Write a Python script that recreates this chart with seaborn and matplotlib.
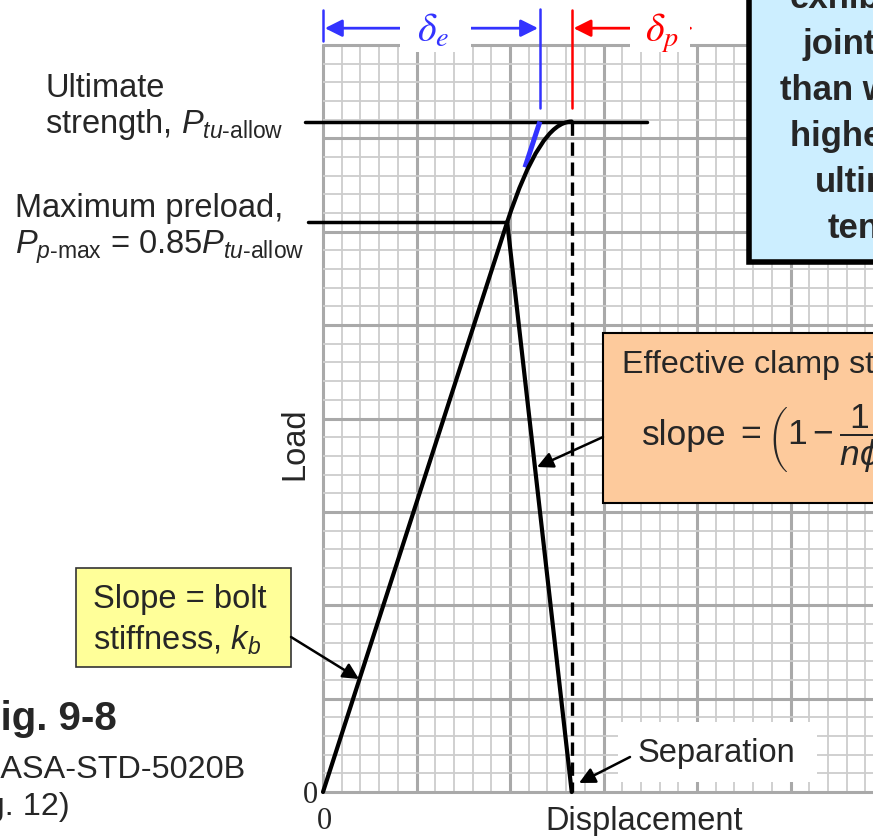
import numpy as np
import matplotlib
matplotlib.use("Agg")
import matplotlib.pyplot as plt
import seaborn as sns
from matplotlib.patches import Rectangle, PathPatch
from matplotlib.path import Path

# Joint load-displacement values, in major grid divisions
p_ult = 7.18             # ultimate strength, P_tu-allow
preload_ratio = 0.85     # maximum preload as a fraction of P_tu-allow
p_preload = preload_ratio * p_ult
disp_preload = 1.97      # displacement at maximum preload
delta_e_end = 2.32       # elastic displacement at P_tu-allow
disp_sep = 2.66          # displacement at separation / ultimate

loading_disp = [0.0, disp_preload]
loading_load = [0.0, p_preload]
unloading_disp = [disp_preload, disp_sep]
unloading_load = [p_preload, 0.0]
elastic_ext_disp = [2.16, delta_e_end]
elastic_ext_load = [6.69, p_ult]
knee_disp = [disp_preload, delta_e_end, disp_sep]
knee_load = [p_preload, p_ult, p_ult]
ult_line_disp = [-0.19, 3.47]
preload_line_disp = [-0.16, disp_preload]

box_lines = ["exhibits", "joint strength", "than what", "higher than",
             "ultimate", "tension"]

BLUE = "#3333ff"
RED = "#ff0000"
FS = 23.5

sns.set_style("white")
plt.rcParams["font.family"] = ["Liberation Sans", "DejaVu Sans"]
plt.rcParams["mathtext.fontset"] = "custom"
plt.rcParams["mathtext.rm"] = "Liberation Sans"
plt.rcParams["mathtext.it"] = "Liberation Sans:italic"
plt.rcParams["mathtext.bf"] = "Liberation Sans:bold"

W, H = 873, 836
fig = plt.figure(figsize=(W / 100, H / 100), dpi=100)
fig.patch.set_facecolor("white")

# graph-paper axes: 8 x 8 major divisions, 5 minor per major
ax = fig.add_axes([323 / W, (H - 792) / H, 8 * 93.5 / W, 747 / H])
ax.set_xlim(0, 8)
ax.set_ylim(0, 8)
ax.set_xticks(np.arange(0, 9))
ax.set_yticks(np.arange(0, 9))
ax.set_xticks(np.arange(0, 8.01, 0.2), minor=True)
ax.set_yticks(np.arange(0, 8.01, 0.2), minor=True)
ax.set_axisbelow(True)
ax.grid(which="minor", color="#cdcdcd", lw=1.3)
ax.grid(which="major", color="#a9a9a9", lw=2.2)
ax.tick_params(which="both", length=0, labelbottom=False, labelleft=False)
for s in ax.spines.values():
    s.set_visible(False)
for gl in ax.get_xgridlines() + ax.get_ygridlines():
    gl.set_clip_on(False)
ax.set_xlabel("")
ax.set_ylabel("")

line_kw = dict(ax=ax, color="black", sort=False, estimator=None, clip_on=False)

# separation line
sns.lineplot(x=[disp_sep, disp_sep], y=[p_ult, 0.0], lw=2.4,
             linestyle=(0, (4, 2)), **line_kw)
# load levels
sns.lineplot(x=ult_line_disp, y=[p_ult, p_ult], lw=2.5, **line_kw)
sns.lineplot(x=preload_line_disp, y=[p_preload, p_preload], lw=2.5, **line_kw)
# elastic extension to ultimate
sns.lineplot(x=elastic_ext_disp, y=elastic_ext_load, ax=ax, color=BLUE,
             lw=3.6, sort=False, estimator=None, solid_capstyle="butt")
# bolt loading and joint unloading
sns.lineplot(x=loading_disp, y=loading_load, lw=3.0, **line_kw)
sns.lineplot(x=unloading_disp, y=unloading_load, lw=3.0, **line_kw)
knee = Path(list(zip(knee_disp, knee_load)),
            [Path.MOVETO, Path.CURVE3, Path.CURVE3])
ax.add_patch(PathPatch(knee, fill=False, ec="black", lw=3.0,
                       capstyle="round", zorder=3))

# displacement markers above the grid
top_y = 8.18
ax.plot([0, 0], [8.04, 8.37], color=BLUE, lw=1.8, clip_on=False)
ax.plot([delta_e_end, delta_e_end], [7.32, 8.39], color=BLUE, lw=1.8, clip_on=False)
ax.plot([disp_sep, disp_sep], [7.32, 8.37], color=RED, lw=1.8, clip_on=False)
ax.annotate("", xy=(0.02, top_y), xytext=(delta_e_end - 0.02, top_y),
            arrowprops=dict(arrowstyle="<|-|>", color=BLUE, lw=2.0,
                            mutation_scale=26, shrinkA=0, shrinkB=0),
            annotation_clip=False)
ax.annotate("", xy=(disp_sep + 0.02, top_y), xytext=(3.93, top_y),
            arrowprops=dict(arrowstyle="-|>", color=RED, lw=2.0,
                            mutation_scale=26, shrinkA=0, shrinkB=0),
            annotation_clip=False)

# overlay in pixel coordinates for labels and callouts
ov = fig.add_axes([0, 0, 1, 1])
ov.set_xlim(0, W)
ov.set_ylim(H, 0)
ov.set_facecolor("none")
ov.axis("off")

ov.add_patch(Rectangle((400, 0), 71, 52, fc="white", ec="none", zorder=2))
ov.add_patch(Rectangle((630, 0), 60, 52, fc="white", ec="none", zorder=2))
ov.text(433, 42, r"$\delta_e$", math_fontfamily="stix", color=BLUE,
        fontsize=29, ha="center", va="baseline", zorder=3)
ov.text(662, 42, r"$\delta_p$", math_fontfamily="stix", color=RED,
        fontsize=29, ha="center", va="baseline", zorder=3)

# left-hand load labels
ov.text(45, 97, "Ultimate", fontsize=FS, va="baseline")
ov.text(45, 133, r"strength, $P_{tu\text{-allow}}$", fontsize=FS, va="baseline")
ov.text(15, 217, "Maximum preload,", fontsize=FS, va="baseline")
ov.text(15, 254, r"$P_{p\text{-max}}$ = 0.85$P_{tu\text{-allow}}$",
        fontsize=FS, va="baseline")

# axis titles and origin
ov.text(295, 444, "Load", fontsize=FS, rotation=90, ha="center", va="center")
ov.text(545, 830, "Displacement", fontsize=FS, va="baseline")
ov.text(303, 803, "0", fontsize=22, family="Liberation Serif", va="baseline")
ov.text(317, 829, "0", fontsize=22, family="Liberation Serif", va="baseline")

# figure caption
ov.text(-24, 730, "Fig. 9-8", fontsize=29, fontweight="bold", va="baseline")
ov.text(-23, 778, "NASA-STD-5020B", fontsize=23.3, va="baseline")
ov.text(-51, 815, "(Fig. 12)", fontsize=23.3, va="baseline")

# bolt stiffness callout
ov.add_patch(Rectangle((76, 568), 215, 99, fc="#ffff99", ec="#333333",
                       lw=1.2, zorder=2))
ov.text(93, 608, "Slope = bolt", fontsize=FS, va="baseline", zorder=3)
ov.text(93, 650, r"stiffness, $k_b$", fontsize=FS, va="baseline", zorder=3)
arrow_kw = dict(arrowstyle="-|>", color="black", lw=1.8, mutation_scale=24,
                shrinkA=0, shrinkB=0)
ov.annotate("", xy=(359, 679), xytext=(291, 637), arrowprops=arrow_kw)

# clamp stiffness callout
ov.add_patch(Rectangle((603, 333), 400, 170, fc="#fdca9c", ec="black",
                       lw=1.5, zorder=2))
ov.text(622, 373, "Effective clamp stiffness", fontsize=23.2, va="baseline",
        zorder=3)
ov.text(642, 445, "slope", fontsize=25.5, va="baseline", zorder=3)
ov.text(735, 445, r"$=\left(1-\dfrac{1}{n\phi}\right)k_b$",
        fontsize=25.5, va="baseline", zorder=3)
ov.annotate("", xy=(537, 467), xytext=(603, 437), arrowprops=arrow_kw)

# separation label
ov.add_patch(Rectangle((618, 722), 199, 60, fc="white", ec="none", zorder=2))
ov.text(638, 762, "Separation", fontsize=FS, va="baseline", zorder=3)
ov.annotate("", xy=(579, 783), xytext=(630, 757), arrowprops=arrow_kw, zorder=4)

# note box, upper right
ov.add_patch(Rectangle((749, -30), 300, 292, fc="#cceeff", ec="black",
                       lw=4.0, zorder=2))
for (x0, yb), txt in zip([(790, 8), (802, 54), (780, 100), (790, 146),
                          (815, 192), (828, 238)], box_lines):
    ov.text(x0, yb, txt, fontsize=25, fontweight="bold", va="baseline", zorder=3)

fig.savefig("out.png", dpi=100)
